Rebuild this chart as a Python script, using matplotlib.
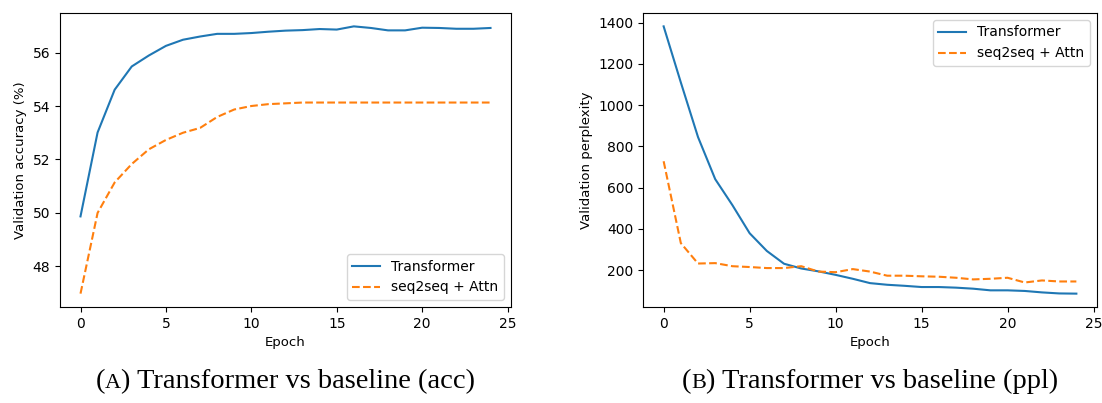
import numpy as np
import matplotlib
matplotlib.use("Agg")
import matplotlib.pyplot as plt

# epochs 0..24
epochs = list(range(25))

# validation accuracy (%)
acc_transformer = [49.87, 53.01, 54.61, 55.48, 55.89, 56.25, 56.48, 56.60, 56.70, 56.70,
                   56.73, 56.78, 56.82, 56.84, 56.88, 56.86, 56.98, 56.92, 56.83, 56.83,
                   56.93, 56.92, 56.89, 56.89, 56.92]
acc_seq2seq = [46.98, 50.00, 51.14, 51.83, 52.38, 52.73, 53.00, 53.18, 53.59, 53.87,
               54.00, 54.07, 54.10, 54.13, 54.13, 54.13, 54.13, 54.13, 54.13, 54.13,
               54.13, 54.13, 54.13, 54.13, 54.13]

# validation perplexity
ppl_transformer = [1382, 1110, 845, 641, 515, 379, 293, 231, 208, 194,
                   177, 158, 137, 129, 124, 118, 118, 115, 110, 102,
                   102, 99, 92, 87, 86]
ppl_seq2seq = [728, 331, 232, 234, 219, 215, 210, 210, 219, 193,
               190, 205, 193, 173, 173, 170, 168, 163, 155, 158,
               163, 140, 150, 145, 145]

# caption pieces: letter is drawn as small caps
caption_letters = ["A", "B"]
caption_texts = [") Transformer vs baseline (acc)", ") Transformer vs baseline (ppl)"]

fig = plt.figure(figsize=(11.02, 4.03), dpi=100)
ax1 = fig.add_axes([60 / 1102, 96 / 403, 451 / 1102, 294 / 403])
ax2 = fig.add_axes([643 / 1102, 96 / 403, 454 / 1102, 294 / 403])

ax1.plot(epochs, acc_transformer, color="#1f77b4", label="Transformer")
ax1.plot(epochs, acc_seq2seq, color="#ff7f0e", linestyle="--", label="seq2seq + Attn")
ax1.set_xlabel("Epoch", fontsize=9.5)
ax1.set_ylabel("Validation accuracy (%)", fontsize=9.5)
ax1.set_xticks([0, 5, 10, 15, 20, 25])
ax1.legend(loc="lower right")

ax2.plot(epochs, ppl_transformer, color="#1f77b4", label="Transformer")
ax2.plot(epochs, ppl_seq2seq, color="#ff7f0e", linestyle="--", label="seq2seq + Attn")
ax2.set_xlabel("Epoch", fontsize=9.5)
ax2.set_ylabel("Validation perplexity", fontsize=9.5)
ax2.set_xticks([0, 5, 10, 15, 20, 25])
ax2.legend(loc="upper right")

# captions below each panel, built from pieces so the letter looks like small caps
renderer = fig.canvas.get_renderer()
W, H = fig.get_size_inches() * fig.dpi
y_cap = 1 - 381 / 403
for ax, letter, rest in zip([ax1, ax2], caption_letters, caption_texts):
    pos = ax.get_position()
    pieces = [("(", 20.5), (letter, 16), (rest, 20.5)]
    texts = []
    for s, size in pieces:
        t = fig.text(0, y_cap, s, ha="left", va="baseline", fontsize=size,
                     family="Liberation Serif")
        texts.append(t)
    widths = [t.get_window_extent(renderer).width for t in texts]
    x = (pos.x0 + pos.x1) / 2 * W - sum(widths) / 2
    for t, w in zip(texts, widths):
        t.set_x(x / W)
        t.set_y(y_cap - 7 / H)
        x += w

fig.savefig("out.png", dpi=100)
